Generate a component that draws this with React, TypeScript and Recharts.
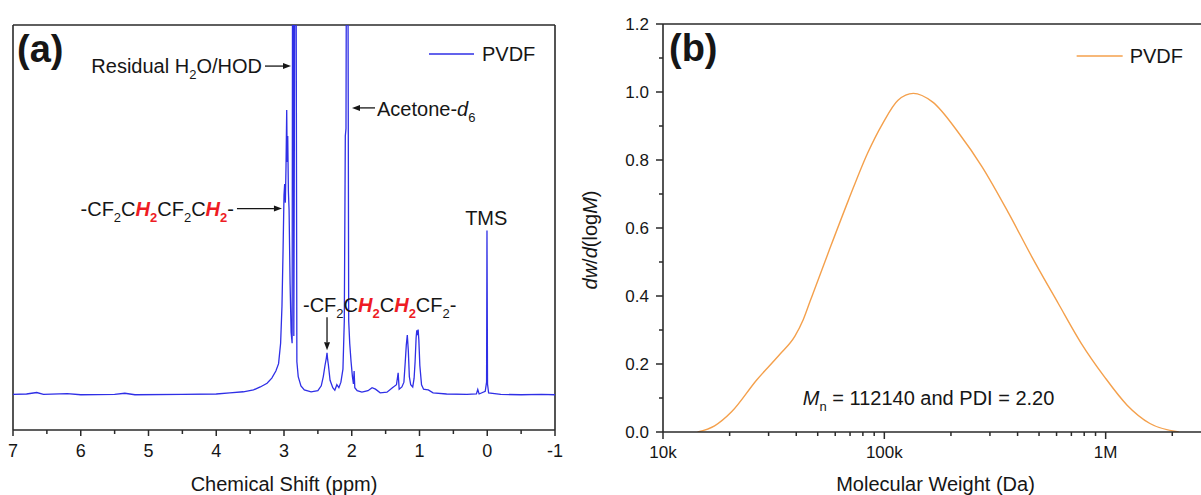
import { LineChart, Line, XAxis, YAxis, ReferenceLine, ReferenceDot } from 'recharts'

// (a) 1H NMR spectrum (ppm, relative intensity; 100 = top of frame)
const shiftPpm = [
  7.0, 6.8, 6.65, 6.55, 6.2, 6.0, 5.5, 5.35, 5.2, 4.5, 4.0, 3.8, 3.6, 3.45, 3.35, 3.25, 3.18, 3.12,
  3.08, 3.05, 3.03, 3.015, 3.0, 2.99, 2.98, 2.97, 2.96, 2.953, 2.945, 2.935, 2.925, 2.91, 2.895, 2.88,
  2.872, 2.865, 2.855, 2.835, 2.825, 2.81, 2.79, 2.75, 2.7, 2.6, 2.5, 2.45, 2.42, 2.395, 2.375, 2.365,
  2.355, 2.345, 2.32, 2.28, 2.25, 2.22, 2.19, 2.16, 2.13, 2.11, 2.095, 2.085, 2.075, 2.06, 2.045, 2.03,
  2.01, 1.99, 1.975, 1.965, 1.955, 1.92, 1.85, 1.76, 1.7, 1.65, 1.58, 1.48, 1.4, 1.34, 1.315, 1.3,
  1.26, 1.23, 1.21, 1.195, 1.18, 1.165, 1.15, 1.13, 1.1, 1.08, 1.065, 1.05, 1.04, 1.03, 1.02, 1.01,
  0.995, 0.97, 0.94, 0.9, 0.87, 0.8, 0.6, 0.3, 0.16, 0.14, 0.12, 0.03, 0.01, 0.004, -0.004, -0.02,
  -0.2, -0.5, -0.8, -1.0,
]
const nmrIntensity = [
  0.2, 0.3, 0.7, 0.2, 0.4, 0.1, 0.2, 0.5, 0.1, 0.2, 0.3, 0.6, 0.9, 1.4, 2.2, 3.2, 4.6, 6.5,
  8.5, 14, 24, 38, 54, 57, 52, 62, 77, 63, 70, 55, 50, 30, 17, 14,
  150, 150, 16, 150, 150, 9, 5, 2.5, 1.4, 0.9, 1.2, 2.5, 5, 8, 10, 11.4,
  9.5, 8.2, 4, 2, 1.3, 2.8, 2, 3.5, 7, 20, 70, 72, 150, 150, 20, 14,
  9, 5, 3, 6.5, 2, 1.2, 0.8, 1.2, 2.0, 1.6, 0.6, 0.8, 2.0, 2.8, 6, 1.6,
  2.2, 3.5, 9, 13.5, 16.2, 12, 5, 2.8, 2.2, 4.5, 9, 15.5, 17.5, 16.2, 17.7, 15,
  8, 2.8, 1.6, 1.5, 1.4, 0.6, 0.3, 0.2, 0.3, 1.5, 0.3, 1, 3.5, 44.5, 3, 0.6,
  0.2, 0.1, 0.2, 0.1,
]
const shiftTicks = [7, 6.5, 6, 5.5, 5, 4.5, 4, 3.5, 3, 2.5, 2, 1.5, 1, 0.5, 0, -0.5, -1]

// (b) GPC molecular weight distribution
const molWeight = [
  14330, 17100, 20460, 26500, 33650, 39450, 43000, 46230, 56400, 68860, 83990, 98400, 115300,
  135200, 164900, 217600, 276500, 364900, 463400, 611000, 775600, 985800, 1250000, 1585000, 2140000,
]
const dwdlogM = [
  0, 0.018, 0.06, 0.153, 0.228, 0.282, 0.33, 0.385, 0.535, 0.682, 0.82, 0.908, 0.976,
  0.996, 0.971, 0.878, 0.78, 0.643, 0.516, 0.378, 0.261, 0.163, 0.079, 0.025, 0,
]
const mwTicks = [
  10000, 20000, 30000, 40000, 50000, 60000, 70000, 80000, 90000,
  100000, 200000, 300000, 400000, 500000, 600000, 700000, 800000, 900000,
  1000000, 2000000,
]
const mwTickLabels: Record<number, string> = { 10000: '10k', 100000: '100k', 1000000: '1M' }
const dwTicks = [0, 0.1, 0.2, 0.3, 0.4, 0.5, 0.6, 0.7, 0.8, 0.9, 1.0, 1.1, 1.2]

const nmrData = shiftPpm.map((ppm, i) => ({ ppm, v: nmrIntensity[i] }))
const gpcData = molWeight.map((mw, i) => ({ mw, w: dwdlogM[i] }))

const FONT = "'Liberation Sans', Arial, sans-serif"
const INK = '#161616'
const AXIS = '#2a2a2a'
const RED = '#ee1c24'
const BLUE = '#2f2fe6'
const ORANGE = '#f4a04c'

type Part = { t: string; sub?: boolean; red?: boolean; it?: boolean }

function Formula({ parts, x, y, anchor = 'start' }: { parts: Part[]; x: number; y: number; anchor?: string }) {
  let down = false
  return (
    <text x={x} y={y} textAnchor={anchor} fontFamily={FONT} fontSize={20} fill={INK}>
      {parts.map((p, i) => {
        const dy = p.sub ? (down ? 0 : 6) : (down ? -6 : 0)
        down = !!p.sub
        return (
          <tspan
            key={i}
            dy={dy || undefined}
            fontSize={p.sub ? 13 : 20}
            fill={p.red ? RED : INK}
            fontWeight={p.red ? 'bold' : undefined}
            fontStyle={p.it ? 'italic' : undefined}
          >
            {p.t}
          </tspan>
        )
      })}
    </text>
  )
}

function Arrow({ x1, y1, x2, y2 }: { x1: number; y1: number; x2: number; y2: number }) {
  const a = Math.atan2(y2 - y1, x2 - x1)
  const L = 8, W = 3
  const bx = x2 - L * Math.cos(a), by = y2 - L * Math.sin(a)
  const pts = `${x2},${y2} ${bx - W * Math.sin(a)},${by + W * Math.cos(a)} ${bx + W * Math.sin(a)},${by - W * Math.cos(a)}`
  return (
    <g>
      <line x1={x1} y1={y1} x2={bx} y2={by} stroke={INK} strokeWidth={1.3} />
      <polygon points={pts} fill={INK} />
    </g>
  )
}

function ShiftTick({ x, y, payload }: any) {
  const v = payload.value
  const major = Number.isInteger(v)
  return (
    <g>
      <line x1={x} x2={x} y1={y} y2={y + (major ? 6 : 4)} stroke={AXIS} strokeWidth={1.5} />
      {major && (
        <text x={x} y={y + 27} textAnchor="middle" fontSize={18} fontFamily={FONT} fill={INK}>{v}</text>
      )}
    </g>
  )
}

function MwTick({ x, y, payload }: any) {
  const label = mwTickLabels[payload.value]
  return (
    <g>
      <line x1={x} x2={x} y1={y} y2={y + (label ? 7 : 4)} stroke={AXIS} strokeWidth={1.5} />
      {label && (
        <text x={x} y={y + 26} textAnchor="middle" fontSize={17} fontFamily={FONT} fill={INK}>{label}</text>
      )}
    </g>
  )
}

function DwTick({ x, y, payload }: any) {
  const v = payload.value
  const major = Math.round(v * 10) % 2 === 0
  return (
    <g>
      <line x1={x - (major ? 7 : 4)} x2={x} y1={y} y2={y} stroke={AXIS} strokeWidth={1.5} />
      {major && (
        <text x={x - 14} y={y + 6} textAnchor="end" fontSize={17} fontFamily={FONT} fill={INK}>{v.toFixed(1)}</text>
      )}
    </g>
  )
}

const shiftTitle = (props: any) => {
  const vb = props.viewBox ?? { x: 13, y: 430, width: 542, height: 30 }
  return (
    <text x={vb.x + vb.width / 2} y={vb.y + 61} textAnchor="middle" fontSize={20} fontFamily={FONT} fill={INK}>
      Chemical Shift (ppm)
    </text>
  )
}

const mwTitle = (props: any) => {
  const vb = props.viewBox ?? { x: 663, y: 432, width: 545, height: 30 }
  return (
    <text x={vb.x + vb.width / 2} y={vb.y + 59} textAnchor="middle" fontSize={20} fontFamily={FONT} fill={INK}>
      Molecular Weight (Da)
    </text>
  )
}

const dwTitle = (props: any) => {
  const vb = props.viewBox ?? { x: 560, y: 24, width: 103, height: 408 }
  const cx = vb.x + 37
  const cy = vb.y + vb.height / 2 + 12
  return (
    <text x={cx} y={cy} transform={`rotate(-90, ${cx}, ${cy})`} textAnchor="middle" fontSize={20} fontFamily={FONT} fill={INK}>
      <tspan fontStyle="italic">dw</tspan>
      <tspan>/</tspan>
      <tspan fontStyle="italic">d</tspan>
      <tspan>(log</tspan>
      <tspan fontStyle="italic">M</tspan>
      <tspan>)</tspan>
    </text>
  )
}

const axisLine = { stroke: AXIS, strokeWidth: 1.6 }

export default function App() {
  return (
    <div style={{ position: 'fixed', left: 0, top: 0, width: 1201, height: 495, overflow: 'hidden', background: '#fff', fontFamily: FONT }}>
      <div style={{ position: 'absolute', left: 0, top: 0 }}>
        <LineChart width={600} height={495} data={nmrData} margin={{ top: 25, right: 45, bottom: 35, left: 13 }}>
          <XAxis
            dataKey="ppm"
            type="number"
            domain={[-1, 7]}
            reversed
            ticks={shiftTicks}
            interval={0}
            tickSize={0}
            tickMargin={0}
            tickLine={false}
            tick={ShiftTick}
            height={30}
            axisLine={axisLine}
            label={{ content: shiftTitle }}
          />
          <YAxis domain={[-9.43, 100]} allowDataOverflow width={0} tick={false} tickLine={false} axisLine={axisLine} />
          <ReferenceLine y={100} stroke={AXIS} strokeWidth={1.6} ifOverflow="visible" />
          <ReferenceLine x={7} stroke={AXIS} strokeWidth={1.6} ifOverflow="visible" />
          <ReferenceLine x={-1} stroke={AXIS} strokeWidth={1.6} ifOverflow="visible" />
          <Line type="linear" dataKey="v" stroke={BLUE} strokeWidth={1.3} dot={false} isAnimationActive={false} />
          <ReferenceDot x={7} y={100} ifOverflow="visible" shape={(p: any) => (
            <text x={p.cx + 4} y={p.cy + 37} fontSize={38} fontWeight="bold" fontFamily={FONT} fill={INK}>(a)</text>
          )} />
          <ReferenceDot x={-1} y={100} ifOverflow="visible" shape={(p: any) => (
            <g>
              <line x1={p.cx - 126} x2={p.cx - 81} y1={p.cy + 29} y2={p.cy + 29} stroke={BLUE} strokeWidth={1.3} />
              <text x={p.cx - 73} y={p.cy + 36} fontSize={20} fontFamily={FONT} fill={INK}>PVDF</text>
            </g>
          )} />
          <ReferenceDot x={2.897} y={88.9} ifOverflow="visible" shape={(p: any) => (
            <g>
              <Arrow x1={p.cx - 26} y1={p.cy} x2={p.cx} y2={p.cy} />
              <Formula x={p.cx - 29} y={p.cy + 7} anchor="end" parts={[
                { t: 'Residual H' }, { t: '2', sub: true }, { t: 'O/HOD' },
              ]} />
            </g>
          )} />
          <ReferenceDot x={1.996} y={77.6} ifOverflow="visible" shape={(p: any) => (
            <g>
              <Arrow x1={p.cx + 23} y1={p.cy} x2={p.cx} y2={p.cy} />
              <Formula x={p.cx + 25} y={p.cy + 8} parts={[
                { t: 'Acetone-' }, { t: 'd', it: true }, { t: '6', sub: true },
              ]} />
            </g>
          )} />
          <ReferenceDot x={3.03} y={50.4} ifOverflow="visible" shape={(p: any) => (
            <g>
              <Arrow x1={p.cx - 45} y1={p.cy} x2={p.cx} y2={p.cy} />
              <Formula x={p.cx - 48} y={p.cy + 7} anchor="end" parts={[
                { t: '-CF' }, { t: '2', sub: true }, { t: 'C' }, { t: 'H', red: true, it: true }, { t: '2', sub: true, red: true },
                { t: 'CF' }, { t: '2', sub: true }, { t: 'C' }, { t: 'H', red: true, it: true }, { t: '2', sub: true, red: true }, { t: '-' },
              ]} />
            </g>
          )} />
          <ReferenceDot x={2.365} y={12.1} ifOverflow="visible" shape={(p: any) => (
            <g>
              <Arrow x1={p.cx} y1={p.cy - 33} x2={p.cx} y2={p.cy} />
              <Formula x={p.cx - 24} y={p.cy - 38} parts={[
                { t: '-CF' }, { t: '2', sub: true }, { t: 'C' }, { t: 'H', red: true, it: true }, { t: '2', sub: true, red: true },
                { t: 'C' }, { t: 'H', red: true, it: true }, { t: '2', sub: true, red: true }, { t: 'CF' }, { t: '2', sub: true }, { t: '-' },
              ]} />
            </g>
          )} />
          <ReferenceDot x={0} y={44.5} ifOverflow="visible" shape={(p: any) => (
            <text x={p.cx - 1} y={p.cy - 5} textAnchor="middle" fontSize={20} fontFamily={FONT} fill={INK}>TMS</text>
          )} />
        </LineChart>
      </div>

      <div style={{ position: 'absolute', left: 560, top: 0 }}>
        <LineChart width={648} height={495} data={gpcData} margin={{ top: 24, right: 0, bottom: 33, left: 0 }}>
          <XAxis
            dataKey="mw"
            type="number"
            scale="log"
            domain={[10000, 2900000]}
            allowDataOverflow
            ticks={mwTicks}
            interval={0}
            tickSize={0}
            tickMargin={0}
            tickLine={false}
            tick={MwTick}
            height={30}
            axisLine={axisLine}
            label={{ content: mwTitle }}
          />
          <YAxis
            domain={[0, 1.2]}
            allowDataOverflow
            ticks={dwTicks}
            interval={0}
            width={103}
            tickSize={0}
            tickMargin={0}
            tickLine={false}
            tick={DwTick}
            axisLine={axisLine}
            label={{ content: dwTitle }}
          />
          <ReferenceLine y={1.2} stroke={AXIS} strokeWidth={1.6} ifOverflow="visible" />
          <Line type="monotone" dataKey="w" stroke={ORANGE} strokeWidth={1.4} dot={false} isAnimationActive={false} />
          <ReferenceDot x={10000} y={1.2} ifOverflow="visible" shape={(p: any) => (
            <text x={p.cx + 6} y={p.cy + 37} fontSize={38} fontWeight="bold" fontFamily={FONT} fill={INK}>(b)</text>
          )} />
          <ReferenceDot x={1000000} y={1.2} ifOverflow="visible" shape={(p: any) => (
            <g>
              <line x1={p.cx - 29} x2={p.cx + 17} y1={p.cy + 32} y2={p.cy + 32} stroke={ORANGE} strokeWidth={1.4} />
              <text x={p.cx + 24} y={p.cy + 39} fontSize={20} fontFamily={FONT} fill={INK}>PVDF</text>
            </g>
          )} />
          <ReferenceDot x={42850} y={0.08} ifOverflow="visible" shape={(p: any) => (
            <Formula x={p.cx} y={p.cy} parts={[
              { t: 'M', it: true }, { t: 'n', sub: true }, { t: ' = 112140 and PDI = 2.20' },
            ]} />
          )} />
        </LineChart>
      </div>
    </div>
  )
}
